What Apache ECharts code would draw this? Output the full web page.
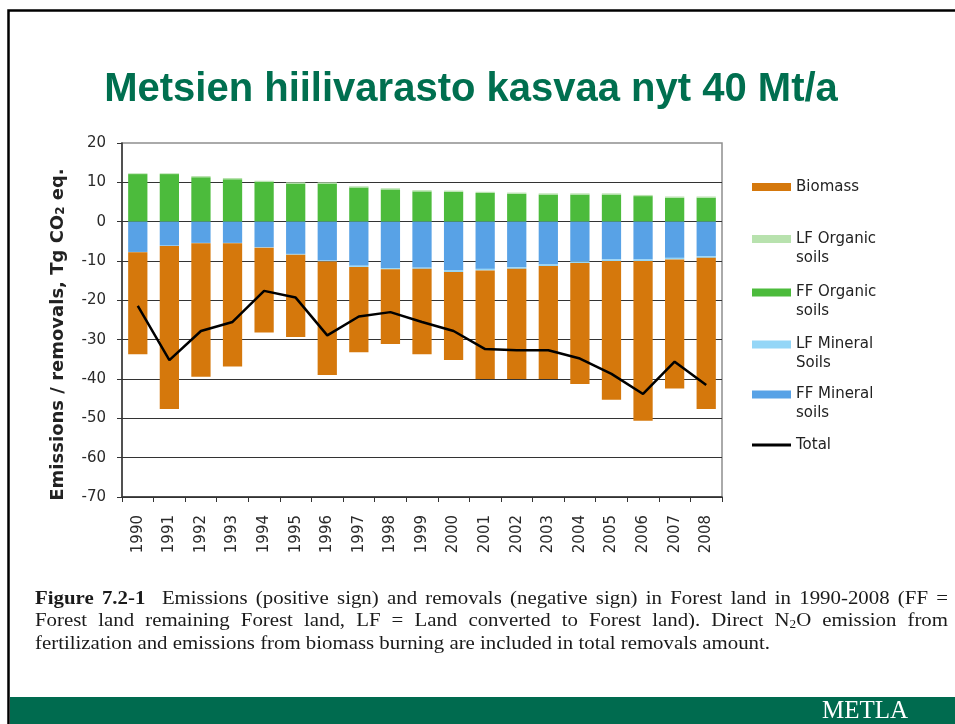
<!DOCTYPE html>
<html>
<head>
<meta charset="utf-8">
<script src="https://cdn.jsdelivr.net/npm/echarts@6/dist/echarts.min.js"></script>
<style>
html, body { margin: 0; padding: 0; background: #fff; }
#container { width: 955px; height: 724px; }
</style>
</head>
<body>
<div id="container"></div>
<script>
var years = ['1990','1991','1992','1993','1994','1995','1996','1997','1998','1999',
             '2000','2001','2002','2003','2004','2005','2006','2007','2008'];
var ffOrganic = [12.1,12.1,11.3,10.8,10.1,9.7,9.7,8.7,8.2,7.7,7.6,7.3,7.1,6.9,6.9,6.9,6.5,6.1,6.1];
var lfOrganic = [0.2,0.2,0.3,0.3,0.3,0.3,0.3,0.3,0.3,0.3,0.3,0.3,0.3,0.3,0.3,0.3,0.3,0.3,0.3];
var ffMineral = [-7.7,-6.1,-5.4,-5.4,-6.5,-8.2,-9.9,-11.2,-11.8,-11.7,-12.4,-12.0,-11.6,-10.9,-10.1,-9.6,-9.6,-9.2,-8.8];
var lfMineral = [-0.1,-0.1,-0.1,-0.1,-0.1,-0.2,-0.2,-0.3,-0.3,-0.3,-0.4,-0.4,-0.4,-0.4,-0.4,-0.4,-0.4,-0.4,-0.4];
var biomass = [-25.9,-41.4,-33.9,-31.3,-21.6,-20.9,-28.9,-21.7,-19.0,-21.7,-22.4,-27.6,-28.0,-28.7,-30.8,-35.3,-40.6,-32.8,-38.4];
var total = [-21.4,-35.2,-27.8,-25.5,-17.6,-19.3,-28.9,-24.1,-23.0,-25.5,-27.8,-32.4,-32.7,-32.7,-34.8,-38.7,-43.8,-35.6,-41.5];

var yMin = -70, yMax = 20, yStep = 10;

// legend labels wrap like the Excel legend (first line level with the swatch)
var legendText = {
    'Biomass': 'Biomass',
    'LF Organic soils': '\nLF Organic\nsoils',
    'FF Organic soils': '\nFF Organic\nsoils',
    'LF Mineral Soils': '\nLF Mineral\nSoils',
    'FF Mineral soils': '\nFF Mineral\nsoils',
    'Total': 'Total'
};

var captionLines = [
    'Figure 7.2-1 Emissions (positive sign) and removals (negative sign) in Forest land in 1990-2008 (FF =',
    'Forest land remaining Forest land, LF = Land converted to Forest land). Direct N{s|2}O emission from',
    'fertilization and emissions from biomass burning are included in total removals amount.'
];

var dom = document.getElementById('container');
var myChart = echarts.init(dom, null, { renderer: 'canvas' });

// caption layout (justified like the scanned figure text)
var CAP_SIZE = 19, SUB_SIZE = 12, CAP_FAMILY = '"Liberation Serif"';
var ctx = document.createElement('canvas').getContext('2d');
function measure(word, bold) {
    var m = word.match(/^(.*)\{s\|(.*)\}(.*)$/);
    ctx.font = (bold ? 'bold ' : '') + CAP_SIZE + 'px ' + CAP_FAMILY;
    if (!m) return ctx.measureText(word).width;
    var w = ctx.measureText(m[1] + m[3]).width;
    ctx.font = SUB_SIZE + 'px ' + CAP_FAMILY;
    return w + ctx.measureText(m[2]).width;
}
ctx.font = CAP_SIZE + 'px ' + CAP_FAMILY;
var spaceW = ctx.measureText(' ').width;

var capLeft = 35, capRight = 948, lastLineEnd = 770;
var capY = [599, 621, 644];
var lastWords = captionLines[2].split(' ');
var natural = 0;
lastWords.forEach(function (w) { natural += measure(w, false); });
natural += spaceW * (lastWords.length - 1);
var sx = (lastLineEnd - capLeft) / natural;

var captionEls = [];
captionLines.forEach(function (line, li) {
    var words = line.split(' ');
    var widths = words.map(function (w, i) { return measure(w, li === 0 && i < 2); });
    var sum = widths.reduce(function (a, b) { return a + b; }, 0);
    var weights = words.map(function (w, i) { return (li === 0 && i === 1) ? 2 : 1; });
    var gapUnits = 0;
    for (var i = 0; i < words.length - 1; i++) gapUnits += weights[i];
    var gap = li < 2 ? ((capRight - capLeft) / sx - sum) / gapUnits : spaceW;
    var pos = 0;
    words.forEach(function (w, i) {
        var bold = li === 0 && i < 2;
        captionEls.push({
            type: 'text',
            x: capLeft + pos * sx,
            y: capY[li],
            scaleX: sx,
            silent: true,
            style: {
                text: w,
                font: (bold ? 'bold ' : '') + CAP_SIZE + 'px ' + CAP_FAMILY,
                fill: '#1a1a1a',
                verticalAlign: 'middle',
                rich: {
                    s: { fontSize: SUB_SIZE, fontFamily: 'Liberation Serif', verticalAlign: 'bottom', fill: '#1a1a1a' }
                }
            }
        });
        pos += widths[i] + gap * weights[i];
    });
});

function legendItem(name, top, isLine) {
    return {
        left: 752,
        top: top,
        orient: 'vertical',
        padding: 0,
        itemGap: 0,
        itemWidth: 39,
        itemHeight: isLine ? 3 : 8,
        selectedMode: false,
        icon: 'rect',
        data: [name],
        formatter: function (n) { return legendText[n]; },
        textStyle: {
            fontFamily: 'DejaVu Sans',
            fontSize: 15,
            color: '#222',
            lineHeight: 19
        }
    };
}

option = {
    animation: false,
    textStyle: { fontFamily: 'DejaVu Sans' },
    grid: {
        left: 122,
        right: 233,
        top: 143,
        bottom: 227,
        show: true,
        borderColor: '#8f8f8f',
        borderWidth: 1.5
    },
    legend: [
        legendItem('Biomass', 177.5, false),
        legendItem('LF Organic soils', 210.5, false),
        legendItem('FF Organic soils', 264, false),
        legendItem('LF Mineral Soils', 316, false),
        legendItem('FF Mineral soils', 366, false),
        legendItem('Total', 435.5, true)
    ],
    xAxis: {
        type: 'category',
        data: years,
        axisLine: { onZero: false, lineStyle: { color: '#333', width: 1.5 } },
        axisTick: { show: true, length: 5, lineStyle: { color: '#333' } },
        axisLabel: {
            rotate: 90,
            interval: 0,
            margin: 18,
            fontSize: 15,
            color: '#2a2a2a'
        }
    },
    yAxis: {
        type: 'value',
        min: yMin,
        max: yMax,
        interval: yStep,
        name: 'Emissions / removals, Tg CO{s|2} eq.',
        nameLocation: 'middle',
        nameGap: 55,
        nameTextStyle: {
            fontSize: 18,
            fontWeight: 'bold',
            color: '#222',
            padding: [0, 29, 0, 0],
            rich: {
                s: { fontSize: 12, fontWeight: 'bold', verticalAlign: 'bottom', color: '#222' }
            }
        },
        axisLine: { show: true, lineStyle: { color: '#333', width: 1.5 } },
        axisTick: { show: true, length: 5, lineStyle: { color: '#333' } },
        axisLabel: { fontSize: 15, color: '#2a2a2a', margin: 16 },
        splitLine: { show: true, showMaxLine: false, lineStyle: { color: '#333', width: 1 } }
    },
    series: [
        { name: 'FF Organic soils', type: 'bar', stack: 'all', barWidth: '61%', data: ffOrganic, itemStyle: { color: '#4cbb3c' } },
        { name: 'LF Organic soils', type: 'bar', stack: 'all', data: lfOrganic, itemStyle: { color: '#b8e2ae' } },
        { name: 'FF Mineral soils', type: 'bar', stack: 'all', data: ffMineral, itemStyle: { color: '#58a2e6' } },
        { name: 'LF Mineral Soils', type: 'bar', stack: 'all', data: lfMineral, itemStyle: { color: '#94d6f7' } },
        { name: 'Biomass', type: 'bar', stack: 'all', data: biomass, itemStyle: { color: '#d5780c' } },
        {
            name: 'Total', type: 'line', data: total, symbol: 'none', z: 5,
            itemStyle: { color: '#000' },
            lineStyle: { color: '#000', width: 2.5 }
        }
    ],
    graphic: [
        {
            type: 'polyline', silent: true, z: -1,
            shape: { points: [[8.5, 724], [8.5, 10.5], [955, 10.5]] },
            style: { stroke: '#000', lineWidth: 2.5, fill: null }
        },
        {
            type: 'text', x: 471, y: 89.5, silent: true,
            style: {
                text: 'Metsien hiilivarasto kasvaa nyt 40 Mt/a',
                font: 'bold 40px "Liberation Sans"',
                fill: '#006f4f',
                align: 'center',
                verticalAlign: 'middle'
            }
        },
        {
            type: 'rect', silent: true,
            shape: { x: 10, y: 697, width: 945, height: 27 },
            style: { fill: '#006b4f' }
        },
        {
            type: 'text', x: 822, y: 711, silent: true,
            style: {
                text: 'METLA',
                font: '25px "Liberation Serif"',
                fill: '#fff',
                verticalAlign: 'middle'
            }
        }
    ].concat(captionEls)
};

if (option && typeof option === 'object') {
    myChart.setOption(option);
}
</script>
</body>
</html>
